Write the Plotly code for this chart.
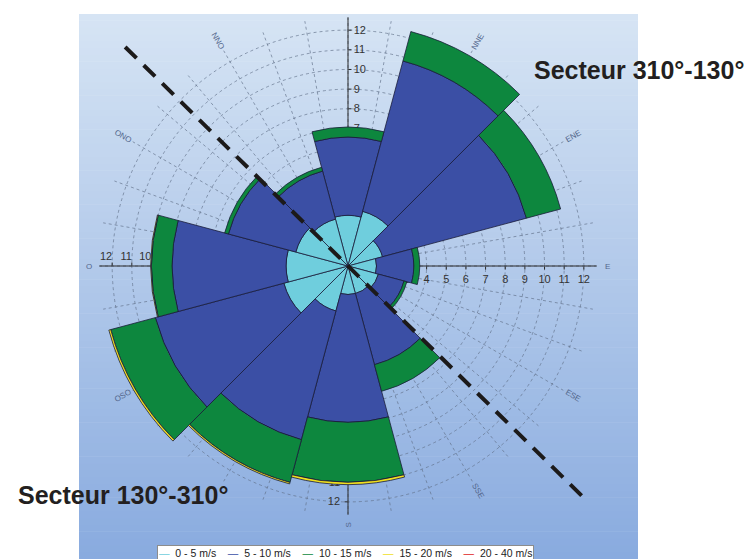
import math
import plotly.graph_objects as go

# Wind rose: 12 sectors of 30 degrees, stacked frequencies (%) per speed class
directions = [0, 30, 60, 90, 120, 150, 180, 210, 240, 270, 300, 330]
direction_labels = ["N", "NNE", "ENE", "E", "ESE", "SSE", "S", "SSO", "OSO", "O", "ONO", "NNO"]
# "N" falls outside the frame and "SSO" sits under the lower sector title
hidden_labels = {"N", "SSO"}

speed_classes = ["0 - 5 m/s", "5 - 10 m/s", "10 - 15 m/s", "15 - 20 m/s", "20 - 40 m/s"]
class_colors = ["#6fcedd", "#3b4fa5", "#0d873e", "#f0e01e", "#e02424"]

freq_0_5 = [2.58, 2.88, 1.82, 1.45, 1.60, 1.45, 1.45, 2.37, 3.38, 3.15, 2.75, 2.47]
freq_5_10 = [3.98, 7.92, 7.58, 1.90, 1.35, 3.75, 6.50, 6.78, 6.77, 5.80, 3.55, 2.53]
freq_10_15 = [0.51, 1.55, 1.80, 0.30, 0.15, 1.40, 3.05, 2.25, 2.35, 1.05, 0.20, 0.20]
freq_15_20 = [0.00, 0.00, 0.00, 0.00, 0.00, 0.00, 0.12, 0.08, 0.10, 0.04, 0.00, 0.00]
freq_20_40 = [0.00, 0.00, 0.00, 0.00, 0.00, 0.00, 0.00, 0.00, 0.00, 0.00, 0.00, 0.00]
class_freqs = [freq_0_5, freq_5_10, freq_10_15, freq_15_20, freq_20_40]

# Dividing line between the two sectors: two opposite ends (theta in degrees, r in %)
split_theta = [314.5, 134.5]
split_r = [15.9, 16.95]

sector_titles = ["Secteur 310°-130°", "Secteur 130°-310°"]

W, H = 744, 559
R_MAX = 12.65
LABEL_R = 13.2
FONT = "Liberation Sans, Arial, sans-serif"
GRID = "rgba(95,110,135,0.65)"
DOMAIN = dict(x=[0.1336, 0.8019], y=[0.0794, 0.9689])

fig = go.Figure()

# invisible anchors so each overlaid polar subplot is rendered
for sp in ["polar", "polar2", "polar3"]:
    fig.add_trace(go.Scatterpolar(r=[0], theta=[0], subplot=sp, mode="markers",
                                  marker=dict(size=1, opacity=0),
                                  hoverinfo="skip", showlegend=False))

for name, color, vals in zip(speed_classes, class_colors, class_freqs):
    fig.add_trace(go.Barpolar(
        r=vals, theta=directions, width=[30] * len(directions), name=name,
        subplot="polar4",
        marker=dict(color=color, line=dict(color="#1b1d3a", width=0.8)),
        showlegend=False,
    ))


def radial(angle, tickangle, grid=False):
    return dict(range=[0, R_MAX], angle=angle, side="clockwise", tick0=0, dtick=1,
                tickangle=tickangle,
                showgrid=grid, gridcolor=GRID, griddash="3px,3px", gridwidth=1,
                showline=True, linecolor="#2a2a2a", linewidth=1,
                ticks="outside", ticklen=3, tickcolor="#2a2a2a",
                tickfont=dict(family=FONT, size=11, color="#333333"),
                layer="below traces")


hidden_angular = dict(visible=False, rotation=90, direction="clockwise")

# cartesian frame sharing the rose's centre and scale
px_per_unit = (DOMAIN["x"][1] - DOMAIN["x"][0]) * W / 2 / R_MAX
cx = (DOMAIN["x"][0] + DOMAIN["x"][1]) / 2 * W
cy = (DOMAIN["y"][0] + DOMAIN["y"][1]) / 2 * H

fig.update_layout(
    width=W, height=H,
    margin=dict(l=0, r=0, t=0, b=0),
    paper_bgcolor="white",
    plot_bgcolor="rgba(0,0,0,0)",
    showlegend=False,
    xaxis=dict(visible=False, domain=[0, 1], range=[-cx / px_per_unit, (W - cx) / px_per_unit],
               fixedrange=True),
    yaxis=dict(visible=False, domain=[0, 1], range=[-cy / px_per_unit, (H - cy) / px_per_unit],
               fixedrange=True),
    polar=dict(
        domain=DOMAIN, bgcolor="rgba(0,0,0,0)",
        radialaxis=radial(0, 0, grid=True),
        angularaxis=dict(rotation=90, direction="clockwise", tickmode="linear",
                         tick0=0, dtick=10, showticklabels=False, ticks="",
                         showgrid=True, gridcolor=GRID, griddash="3px,3px",
                         gridwidth=1, showline=False),
    ),
    polar2=dict(domain=DOMAIN, bgcolor="rgba(0,0,0,0)",
                radialaxis=radial(270, -90), angularaxis=hidden_angular),
    polar3=dict(domain=DOMAIN, bgcolor="rgba(0,0,0,0)",
                radialaxis=radial(180, 180), angularaxis=hidden_angular),
    polar4=dict(
        domain=DOMAIN, bgcolor="rgba(0,0,0,0)", barmode="stack",
        radialaxis=radial(90, 90),
        angularaxis=dict(rotation=90, direction="clockwise", tickmode="array",
                         tickvals=directions, showticklabels=False,
                         showgrid=False, showline=False, ticks=""),
    ),
)

# vertical blue gradient behind the rose
top_rgb = (214, 228, 244)
bot_rgb = (137, 171, 223)
n_strips = 80
y_top = 1 - 14 / H
for i in range(n_strips):
    t = i / (n_strips - 1)
    c = tuple(int(round(b + (a - b) * t)) for a, b in zip(top_rgb, bot_rgb))
    y0 = y_top * i / n_strips
    y1 = y_top * (i + 1) / n_strips + 0.001
    fig.add_shape(type="rect", xref="paper", yref="paper",
                  x0=79 / W, x1=638 / W, y0=y0, y1=min(y1, y_top),
                  line=dict(width=0), fillcolor="rgb(%d,%d,%d)" % c, layer="below")

# direction names written along the radius, just outside the outer ring
for theta, label in zip(directions, direction_labels):
    if label in hidden_labels:
        continue
    a = math.radians(theta)
    fig.add_annotation(text=label, xref="x", yref="y",
                       x=LABEL_R * math.sin(a), y=LABEL_R * math.cos(a),
                       textangle=((theta - 90) + 90) % 180 - 90,
                       showarrow=False, xanchor="center", yanchor="middle",
                       font=dict(family=FONT, size=8, color="#52668c"))

# dashed dividing line through the centre, drawn over the bars
ends = [(r * math.sin(math.radians(t)), r * math.cos(math.radians(t)))
        for t, r in zip(split_theta, split_r)]
fig.add_shape(type="line", xref="x", yref="y",
              x0=ends[0][0], y0=ends[0][1], x1=ends[1][0], y1=ends[1][1],
              line=dict(color="#1c1a1a", width=4, dash="16px,10px"), layer="above")

fig.add_annotation(text="<b>%s</b>" % sector_titles[0], xref="paper", yref="paper",
                   x=638.5 / W, y=1 - 70 / H, xanchor="center", yanchor="middle",
                   showarrow=False, font=dict(family=FONT, size=25, color="#231f20"))
fig.add_annotation(text="<b>%s</b>" % sector_titles[1], xref="paper", yref="paper",
                   x=123 / W, y=1 - 495 / H, xanchor="center", yanchor="middle",
                   showarrow=False, font=dict(family=FONT, size=25, color="#231f20"))

# speed-class key in a boxed strip at the bottom
gap = "\u00a0" * 4
key = gap.join("<span style='color:%s'>\u2014</span>\u00a0\u00a0%s" % (c, n)
               for n, c in zip(speed_classes, class_colors))
fig.add_annotation(text=key, xref="paper", yref="paper", x=345 / W, y=1 - 545 / H,
                   xanchor="center", yanchor="top", showarrow=False,
                   bgcolor="white", bordercolor="#8c8c8c", borderwidth=1, borderpad=1,
                   font=dict(family=FONT, size=10.5, color="#222222"))

fig.write_html("out.html")
